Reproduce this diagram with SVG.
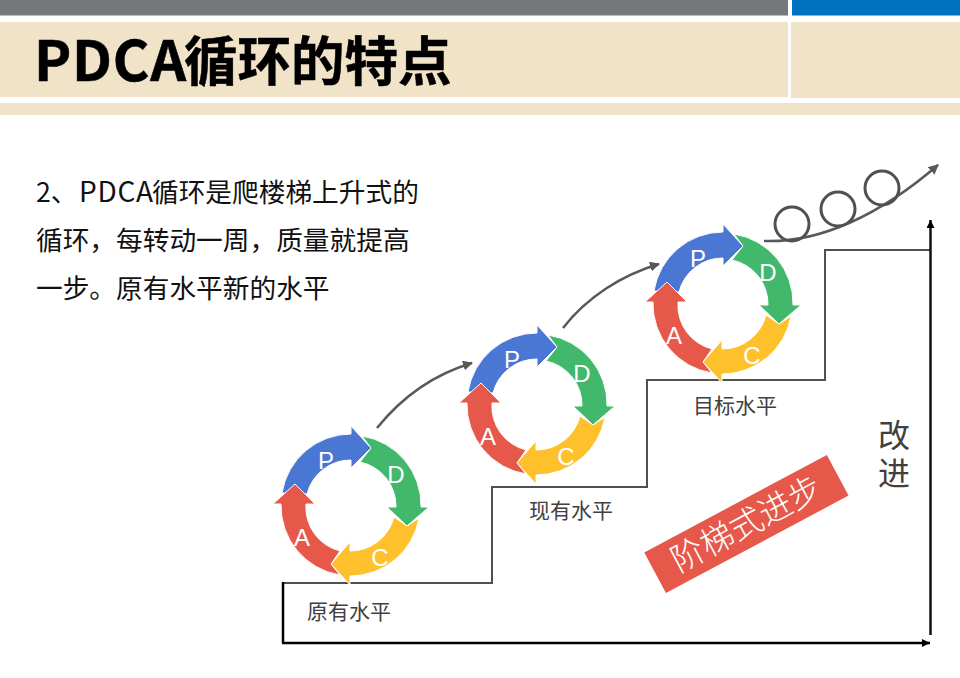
<svg xmlns="http://www.w3.org/2000/svg" width="960" height="678" viewBox="0 0 960 678">
<style>
text{font-family:"Liberation Sans","Noto Sans CJK SC",sans-serif}
.cjk{font-family:"Noto Sans CJK SC",sans-serif}
.l{fill:#fff;font-size:24px;text-anchor:middle}
.cap{fill:#404040;font-size:21px;text-anchor:middle}
.body{fill:#111;font-size:26.700px}
.seg{stroke:#fff;stroke-width:1}
.curve{fill:none;stroke:#595959;stroke-width:2.500}
.ball{fill:none;stroke:#505050;stroke-width:3}
</style>
<defs>
<marker id="gh" markerUnits="userSpaceOnUse" markerWidth="11" markerHeight="10" refX="9" refY="5" orient="auto"><path d="M0 0L10 5L0 10z" fill="#595959"/></marker>
<marker id="kh" markerUnits="userSpaceOnUse" markerWidth="8" markerHeight="8" refX="8" refY="4" orient="auto"><path d="M0 0L8 4L0 8z" fill="#000"/></marker>
<g id="cycle">
<path class="seg" fill="#4a77d4" d="M-69-12A70 70 0 0 1 0-71V-79L20-57L0-37V-45A45 45 0 0 0-44-11Z"/>
<path class="seg" fill="#41b86c" d="M11-69A70 70 0 0 1 70 2H78L56 21L36 2H45A45 45 0 0 0 9-43L20-57Z"/>
<path class="seg" fill="#ffc12b" d="M68 13A70 70 0 0 1-1 71V80L-20 59L-1 37V46A45 45 0 0 0 43 12L56 21Z"/>
<path class="seg" fill="#e6594a" d="M-11 70A70 70 0 0 1-70-1H-78L-56-21L-36-1H-45A45 45 0 0 0-11 46L-20 59Z"/>
</g>
</defs>
<rect width="960" height="678" fill="#fff"/>
<g id="header">
<rect x="0" y="0" width="788" height="15.500" fill="#75787b"/>
<rect x="792" y="0" width="168" height="15.500" fill="#0070c0"/>
<rect x="0" y="22" width="788" height="75" fill="#f0e3c8"/>
<rect x="791" y="22" width="169" height="76" fill="#f0e3c8"/>
<rect x="0" y="103" width="960" height="12" fill="#f0e3c8"/>
<text class="cjk" x="34" y="81" font-size="56" font-weight="700" fill="#000" stroke="#000" stroke-width="0.500" letter-spacing="0.700">PDCA<tspan x="184" font-size="53.500" letter-spacing="0">循环的特点</tspan></text>
</g>
<g id="intro">
<text class="cjk body" x="36" y="202">2、<tspan x="79" font-size="28" letter-spacing="0.700">PDCA</tspan><tspan x="152">循环是爬楼梯上升式的</tspan></text>
<text class="cjk body" x="36" y="250">循环，每转动一周，质量就提高</text>
<text class="cjk body" x="36" y="298">一步。原有水平新的水平</text>
</g>
<g id="connectors">
<path d="M283 583H492V487H647V380H825V250H930" fill="none" stroke="#505050" stroke-width="2"/>
<path d="M283 643V582" fill="none" stroke="#000" stroke-width="2.500"/>
<path d="M282 643H930" fill="none" stroke="#000" stroke-width="2.500" marker-end="url(#kh)"/>
<path d="M930.500 635V220" fill="none" stroke="#111" stroke-width="2.500" marker-end="url(#kh)"/>
<path class="curve" d="M377 428C402 397 435 374 472 363" marker-end="url(#gh)"/>
<path class="curve" d="M563 328C587 297 622 275 659 264" marker-end="url(#gh)"/>
<path class="curve" d="M764 241C820 243 880 215 938 165" marker-end="url(#gh)"/>
</g>
<g id="balls">
<circle class="ball" cx="792" cy="224" r="17"/>
<circle class="ball" cx="838" cy="209" r="17"/>
<circle class="ball" cx="882" cy="188" r="17"/>
</g>
<g id="cycle-1" transform="translate(351 505)">
<use href="#cycle"/>
<text class="l" x="-25" y="-36">P</text><text class="l" x="45" y="-22">D</text><text class="l" x="29" y="61">C</text><text class="l" x="-49" y="41">A</text>
</g>
<g id="cycle-2" transform="translate(537 404)">
<use href="#cycle"/>
<text class="l" x="-25" y="-36">P</text><text class="l" x="45" y="-22">D</text><text class="l" x="29" y="61">C</text><text class="l" x="-49" y="41">A</text>
</g>
<g id="cycle-3" transform="translate(723 303)">
<use href="#cycle"/>
<text class="l" x="-25" y="-36">P</text><text class="l" x="45" y="-22">D</text><text class="l" x="29" y="61">C</text><text class="l" x="-49" y="41">A</text>
</g>
<g id="labels">
<text class="cjk cap" x="349" y="619">原有水平</text>
<text class="cjk cap" x="571" y="518">现有水平</text>
<text class="cjk cap" x="735" y="413">目标水平</text>
<text class="cjk" x="894" y="419" font-size="32" fill="#404040" style="writing-mode:vertical-rl;letter-spacing:6px">改进</text>
</g>
<g id="stair-tag" transform="translate(746.400 524) rotate(-28.100)">
<rect x="-103.500" y="-23" width="207" height="46" fill="#e6594a"/>
<text class="cjk" x="0" y="11.500" font-size="33" font-weight="300" fill="#fff" text-anchor="middle">阶梯式进步</text>
</g>
</svg>
